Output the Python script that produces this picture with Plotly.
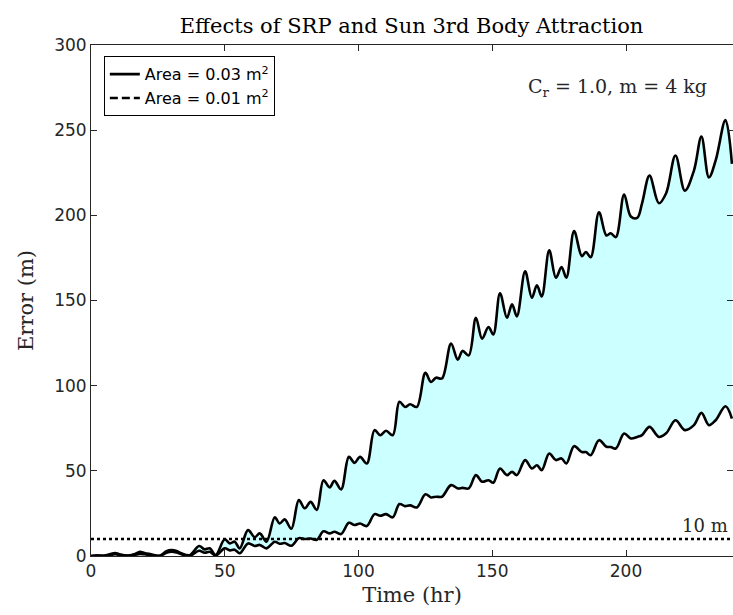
import plotly.graph_objects as go

# ---- data ----
time_hr = [0, 2, 5, 7, 9, 11, 14, 16.5, 18.3, 20, 22, 25.7, 28.2, 30.1, 32, 33.8, 36.9,
           40.4, 42.5, 44.4, 46.6, 50, 51.9, 53.7, 55.6, 58.7, 61.2, 63.1, 65.6, 68.7,
           70.5, 72.4, 74.9, 77.7, 79.9, 82.1, 84.4, 86.9, 89.2, 91.0, 93.5, 96.4, 98.5,
           100.6, 103.1, 106.0, 108.1, 110.3, 112.8, 115.3, 117.4, 119.3, 121.8, 125.0,
           127.1, 129.0, 131.2, 134.6, 137.1, 138.9, 141.2, 143.9, 146.2, 148.6, 150.4,
           152.9, 155.5, 157.4, 159.2, 162.3, 164.8, 166.7, 168.5, 171.3, 173.8, 175.9,
           177.7, 180.6, 183.5, 185.0, 186.8, 189.9, 192.7, 194.3, 196.2, 199.3, 201.8,
           204.2, 206.0, 208.8, 212.3, 215.0, 218.5, 222.0, 225.4, 228.2, 231.0, 233.5,
           237.2, 239.6]

err_area_003 = [0, 0.3, 0.2, 1.0, 1.8, 0.8, 0.3, 1.2, 2.5, 1.8, 1.2, 0.2, 2.8, 3.5, 3.0, 1.6, 0.5,
                5.9, 3.9, 4.5, 0.6, 9.8, 7.4, 8.4, 4.5, 15.2, 11.0, 13.3, 8.4, 22.7,
                19.1, 21.5, 16.0, 32.8, 28.0, 31.8, 27.0, 44.5, 40.3, 44.1, 39.1, 58.2, 54.7,
                58.2, 54.3, 73.9, 70.9, 73.5, 70.9, 90.5, 87.5, 89.1, 87.5, 107.5,
                102.2, 104.7, 104.2, 124.7, 115.3, 120.4, 117.8, 139.9, 127.6, 134.4, 130.1,
                154.3, 139.9, 147.7, 140.7, 167.2, 151.6, 158.9, 152.4, 179.4, 163.4, 169.6,
                163.4, 190.7, 176.0, 178.5, 175.4, 201.8, 188.2, 189.5, 187.2, 212.2, 199.3,
                198.5, 207.0, 223.3, 207.1, 213.0, 235.1, 214.5, 226.3, 246.2, 222.3, 232.1,
                256.0, 230.2]

err_area_001 = [0, 0.2, 0.1, 0.5, 1.0, 0.5, 0.2, 0.8, 1.2, 1.0, 0.6, 0.1, 1.9, 2.5, 2.0, 1.0, 0.1,
                3.1, 1.9, 2.5, 0.3, 4.5, 3.3, 3.7, 1.6, 7.4, 5.9, 6.5, 4.5, 8.4,
                7.2, 7.6, 6.0, 10.5, 10.0, 10.3, 9.5, 14.5, 13.3, 14.2, 12.9, 19.5, 18.2,
                19.1, 17.6, 24.6, 23.6, 24.6, 22.7, 30.5, 29.3, 29.7, 28.5, 36.2,
                34.4, 34.8, 34.8, 41.6, 39.7, 40.0, 39.7, 47.5, 43.6, 44.5, 43.0,
                51.4, 47.5, 49.4, 47.5, 56.3, 51.4, 53.3, 50.4, 60.2, 56.3, 57.3,
                54.3, 64.5, 61.0, 61.0, 59.2, 68.0, 64.1, 64.0, 63.1, 71.9, 69.0,
                69.9, 71.0, 75.8, 69.9, 72.0, 79.7, 73.9, 76.8, 84.0, 76.8, 79.7,
                87.9, 80.7]

x_tick_vals = [0, 50, 100, 150, 200]
y_tick_vals = [0, 50, 100, 150, 200, 250, 300]
threshold_m = 10
series_names = ["Area = 0.03 m<sup>2</sup>", "Area = 0.01 m<sup>2</sup>"]

SERIF = "DejaVu Serif"
SANS = "DejaVu Sans"
AX = "rgb(38,38,38)"

fig = go.Figure()

# filled band between the two curves
fig.add_trace(go.Scatter(x=time_hr, y=err_area_001, mode="lines",
                         line=dict(width=0, shape="spline"), showlegend=False,
                         hoverinfo="skip"))
fig.add_trace(go.Scatter(x=time_hr, y=err_area_003, mode="lines",
                         line=dict(width=0, shape="spline"), fill="tonexty",
                         fillcolor="rgb(204,255,255)", showlegend=False,
                         hoverinfo="skip"))

# curves
fig.add_trace(go.Scatter(x=time_hr, y=err_area_003, mode="lines",
                         line=dict(color="black", width=2.6, shape="spline"),
                         name=series_names[0]))
fig.add_trace(go.Scatter(x=time_hr, y=err_area_001, mode="lines",
                         line=dict(color="black", width=2.6, shape="spline"),
                         name=series_names[1], showlegend=False))
# legend sample for the second series
fig.add_trace(go.Scatter(x=[None], y=[None], mode="lines",
                         line=dict(color="black", width=2.6, dash="8px,4px"),
                         name=series_names[1]))

# 10 m threshold
fig.add_shape(type="line", xref="paper", x0=0, x1=1, yref="y",
              y0=threshold_m, y1=threshold_m,
              line=dict(color="black", width=2.6, dash="dot"))
fig.add_annotation(xref="paper", x=0.995, yref="y", y=threshold_m,
                   xanchor="right", yanchor="bottom", yshift=1,
                   text=f"{threshold_m} m", showarrow=False,
                   font=dict(family=SERIF, size=18, color=AX))
fig.add_annotation(xref="paper", x=0.962, yref="paper", y=0.916,
                   xanchor="right", yanchor="middle",
                   text="C<sub>r</sub> = 1.0, m = 4 kg", showarrow=False,
                   font=dict(family=SERIF, size=19, color=AX))

fig.update_layout(
    width=733, height=615,
    margin=dict(l=91, r=0, t=45, b=59),
    paper_bgcolor="white", plot_bgcolor="white",
    title=dict(text="Effects of SRP and Sun 3rd Body Attraction",
               x=0.5615, xanchor="center", y=0.958, yanchor="middle",
               font=dict(family=SERIF, size=21, color="black")),
    legend=dict(x=0.02, y=0.978, xanchor="left", yanchor="top",
                bgcolor="white", bordercolor="black", borderwidth=1,
                font=dict(family=SANS, size=16, color="black"),
                traceorder="normal", tracegroupgap=0, itemwidth=30),
    showlegend=True,
)

fig.update_xaxes(range=[0, 240], tickvals=x_tick_vals, ticks="inside", ticklen=6,
                 tickcolor=AX, showline=True, linecolor=AX, linewidth=1,
                 mirror="ticks", showgrid=False, zeroline=False,
                 tickfont=dict(family=SANS, size=17, color=AX),
                 title=dict(text="Time (hr)", standoff=6,
                            font=dict(family=SERIF, size=21, color=AX)))
fig.update_yaxes(range=[0, 300], tickvals=y_tick_vals, ticks="inside", ticklen=6,
                 tickcolor=AX, showline=True, linecolor=AX, linewidth=1,
                 mirror="ticks", showgrid=False, zeroline=False,
                 tickfont=dict(family=SANS, size=17, color=AX),
                 title=dict(text="Error (m)", standoff=14,
                            font=dict(family=SERIF, size=21, color=AX)))

fig.write_html("out.html")
